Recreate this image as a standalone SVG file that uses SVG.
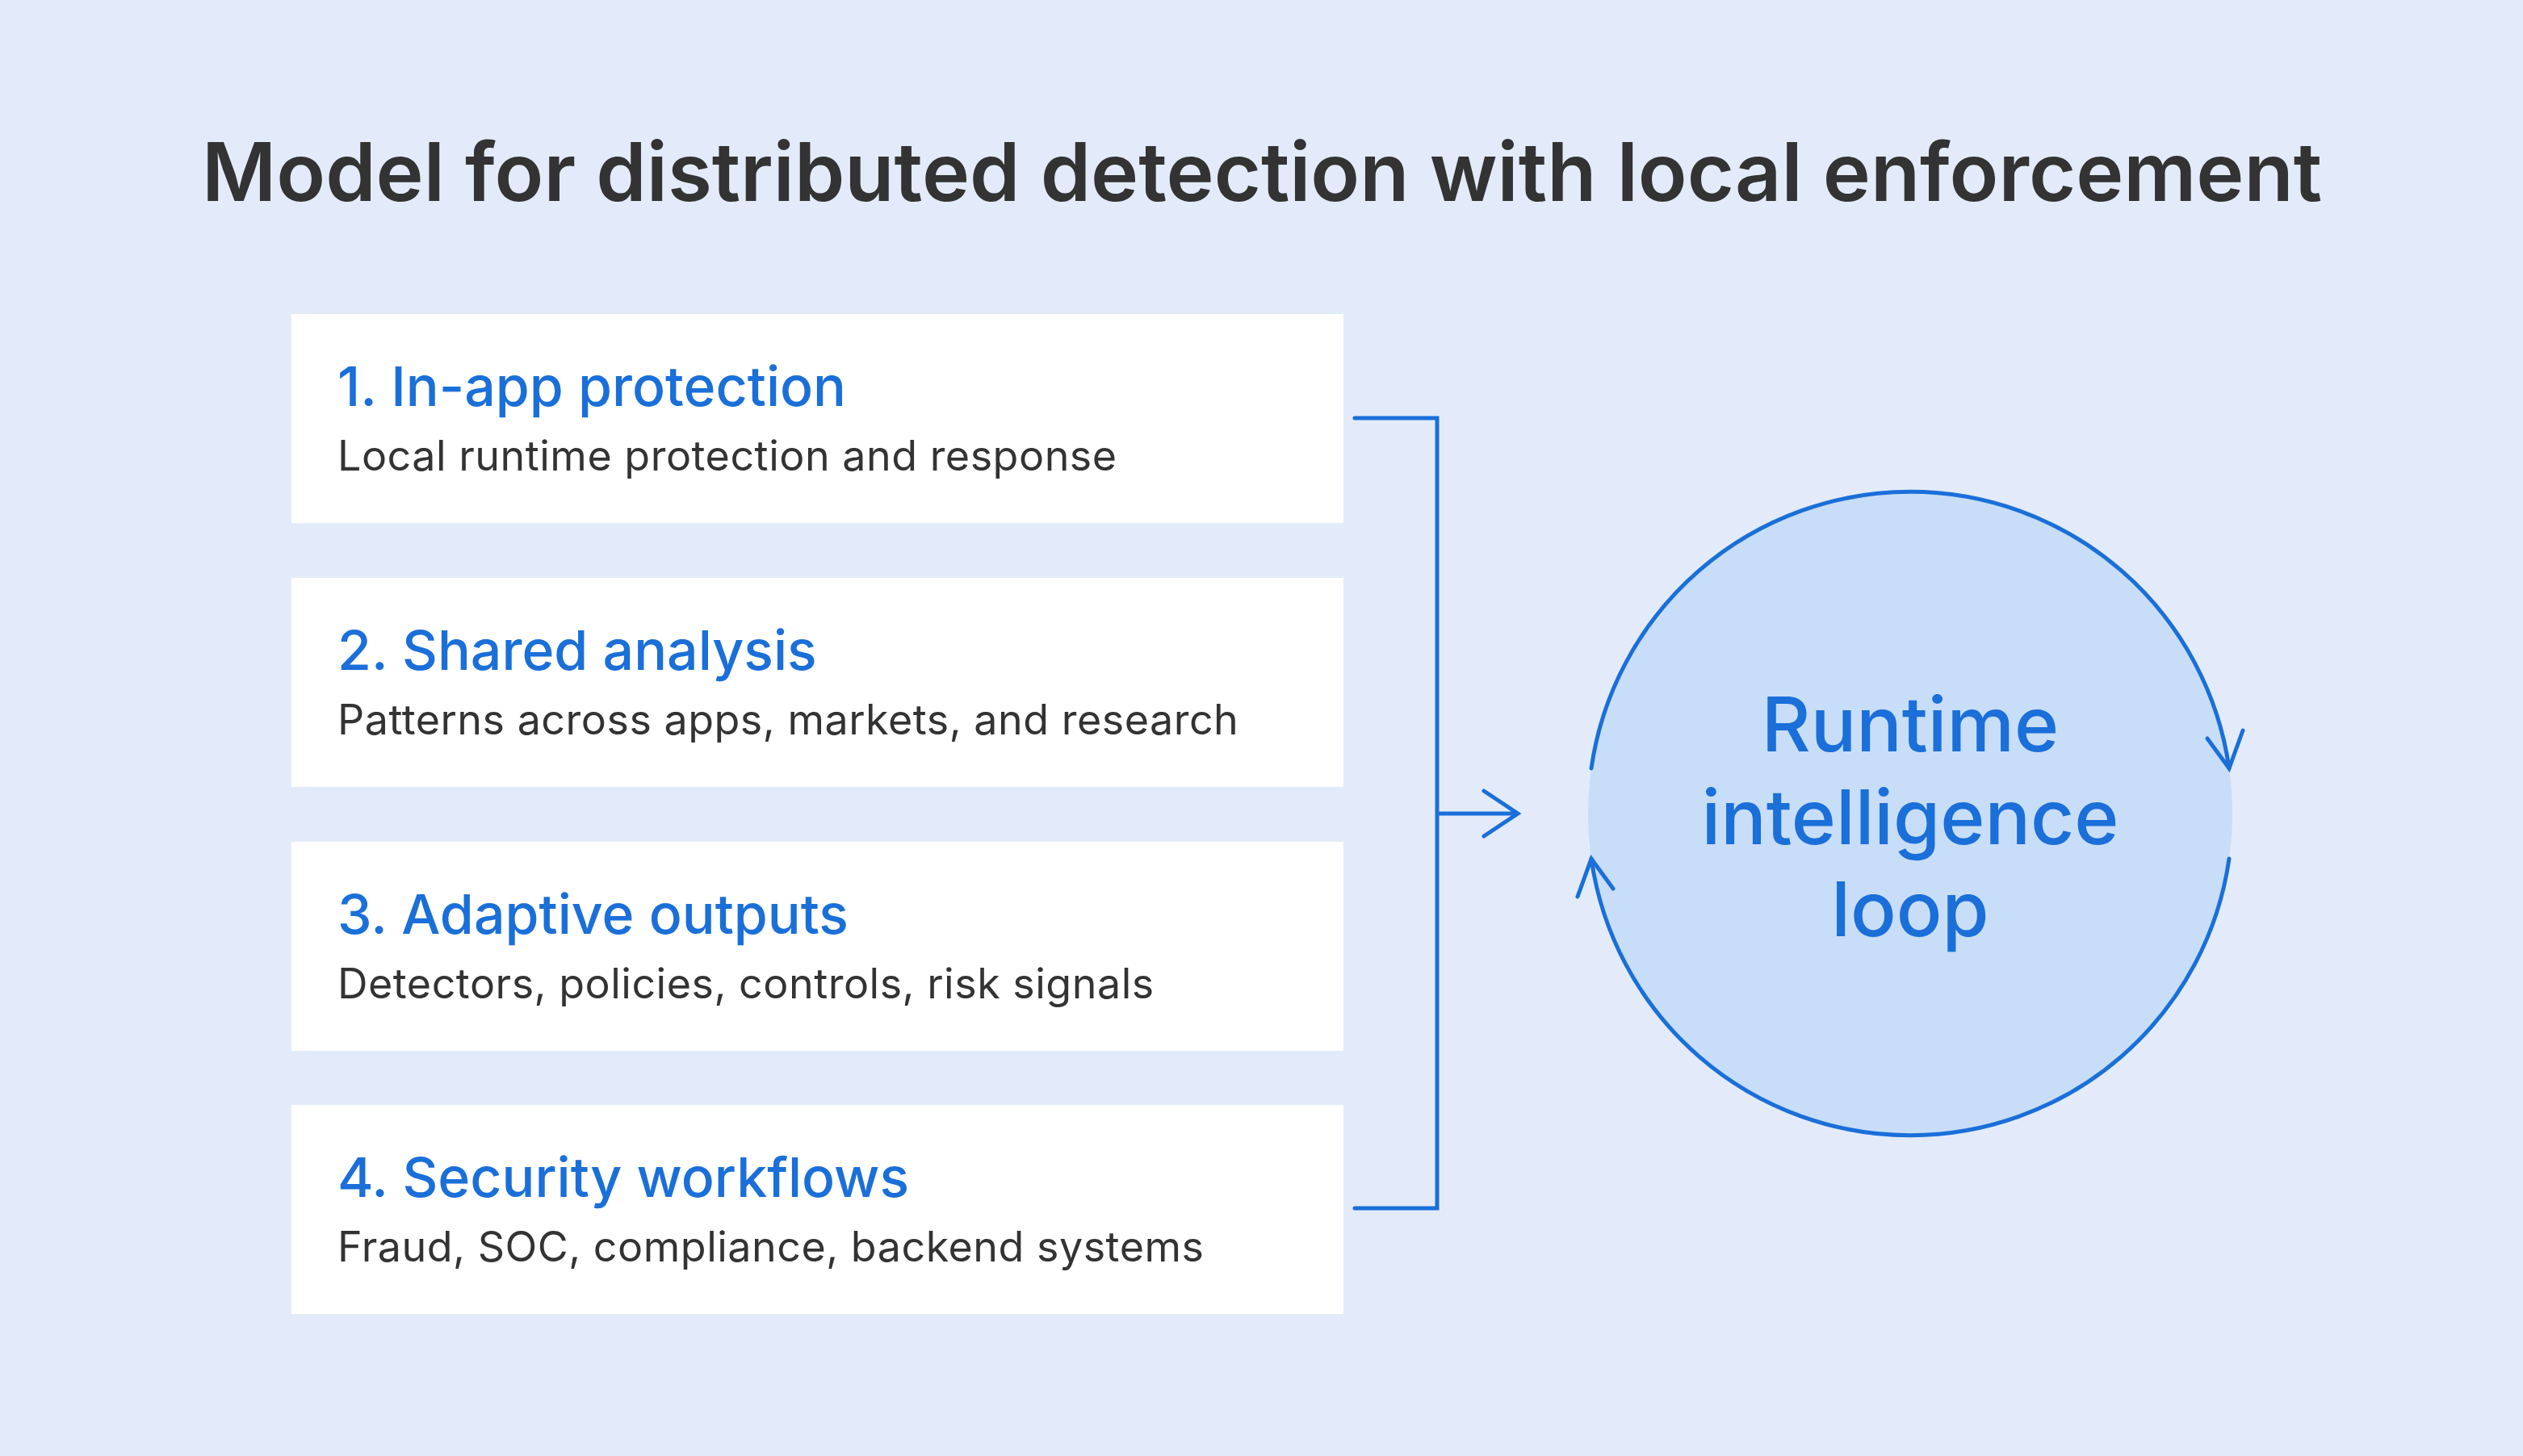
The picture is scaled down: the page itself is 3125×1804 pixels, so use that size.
<svg xmlns="http://www.w3.org/2000/svg" width="3125" height="1804" viewBox="0 0 3125 1804">
<style>
.box{fill:#ffffff}
.h{font-family:Inter,"Liberation Sans",sans-serif;font-size:68px;fill:#1a6fd9;font-weight:500}
.s{font-family:Inter,"Liberation Sans",sans-serif;font-size:52px;fill:#333333;letter-spacing:0.5px}
.ln{fill:none;stroke:#1a6fd9;stroke-width:5;stroke-linecap:round}
.c{font-family:Inter,"Liberation Sans",sans-serif;font-size:94px;fill:#1a6fd9;font-weight:500;text-anchor:middle}
</style>
<rect width="3125" height="1804" fill="#e3ebfa"/>
<text x="1563" y="249" text-anchor="middle" font-family="Inter,'Liberation Sans',sans-serif" font-size="100" font-weight="600" fill="#333333">Model for distributed detection with local enforcement</text>
<g id="node1"><rect class="box" x="361" y="389" width="1303" height="259"/><text class="h" x="418" y="503">1. In-app protection</text><text class="s" x="418" y="583">Local runtime protection and response</text></g>
<g id="node2"><rect class="box" x="361" y="716" width="1303" height="259"/><text class="h" x="418" y="830">2. Shared analysis</text><text class="s" x="418" y="910">Patterns across apps, markets, and research</text></g>
<g id="node3"><rect class="box" x="361" y="1043" width="1303" height="259"/><text class="h" x="418" y="1157">3. Adaptive outputs</text><text class="s" x="418" y="1237">Detectors, policies, controls, risk signals</text></g>
<g id="node4"><rect class="box" x="361" y="1369" width="1303" height="259"/><text class="h" x="418" y="1483">4. Security workflows</text><text class="s" x="418" y="1563">Fraud, SOC, compliance, backend systems</text></g>
<g id="loop">
<circle cx="2366" cy="1008" r="399" fill="#c8ddf7"/>
<text class="c" x="2366" y="931">Runtime</text>
<text class="c" x="2366" y="1046">intelligence</text>
<text class="c" x="2366" y="1160">loop</text>
</g>
<g id="connectors">
<path class="ln" d="M1678 518 H1780 V1497 H1678"/>
<path d="M1780 1008 H1878" fill="none" stroke="#1a6fd9" stroke-width="5"/>
<path d="M1838 980 L1880 1008 L1838 1036" class="ln"/>
<path class="ln" d="M1971 952 A399 399 0 0 1 2761 952"/>
<path class="ln" d="M2761 1064 A399 399 0 0 1 1971 1064"/>
<path class="ln" d="M2734 915 L2761 952 L2778 905"/>
<path class="ln" d="M1998 1101 L1971 1064 L1954 1111"/>
</g>
</svg>
